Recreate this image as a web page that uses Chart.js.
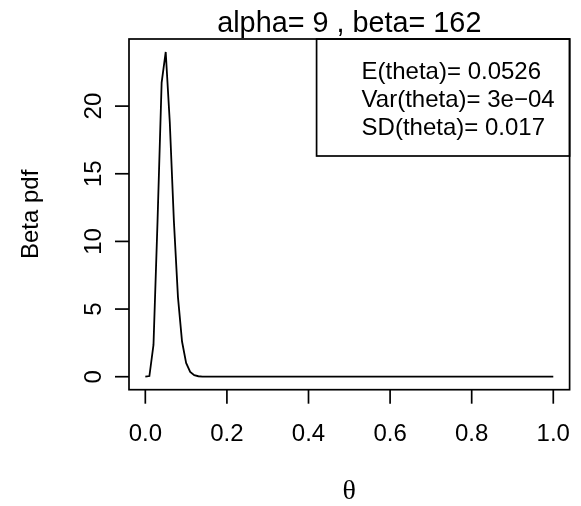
<!DOCTYPE html>
<html>
<head>
<meta charset="utf-8">
<script src="https://cdn.jsdelivr.net/npm/chart.js@4/dist/chart.umd.min.js"></script>
<style>
  html, body { margin: 0; padding: 0; background: #fff; }
  #wrap { width: 581px; height: 506px; }
</style>
</head>
<body>
<div id="wrap"><canvas id="betaChart" width="581" height="506"></canvas></div>
<script>
// theta grid and Beta(9,162) density
const theta = [
  0.00, 0.01, 0.02, 0.03, 0.04, 0.05, 0.06, 0.07, 0.08, 0.09,
  0.10, 0.11, 0.12, 0.13, 0.14, 0.15, 0.16, 0.17, 0.18, 0.19,
  0.20, 0.21, 0.22, 0.23, 0.24, 0.25, 0.26, 0.27, 0.28, 0.29,
  0.30, 0.31, 0.32, 0.33, 0.34, 0.35, 0.36, 0.37, 0.38, 0.39,
  0.40, 0.41, 0.42, 0.43, 0.44, 0.45, 0.46, 0.47, 0.48, 0.49,
  0.50, 0.51, 0.52, 0.53, 0.54, 0.55, 0.56, 0.57, 0.58, 0.59,
  0.60, 0.61, 0.62, 0.63, 0.64, 0.65, 0.66, 0.67, 0.68, 0.69,
  0.70, 0.71, 0.72, 0.73, 0.74, 0.75, 0.76, 0.77, 0.78, 0.79,
  0.80, 0.81, 0.82, 0.83, 0.84, 0.85, 0.86, 0.87, 0.88, 0.89,
  0.90, 0.91, 0.92, 0.93, 0.94, 0.95, 0.96, 0.97, 0.98, 0.99,
  1.00
];
const pdf = [
  0, 0.047, 2.35, 11.54, 21.74, 24.0, 18.79, 11.52, 5.88, 2.6,
  1.02, 0.36, 0.12, 0.035, 0.01, 0.003, 0, 0, 0, 0,
  0, 0, 0, 0, 0, 0, 0, 0, 0, 0,
  0, 0, 0, 0, 0, 0, 0, 0, 0, 0,
  0, 0, 0, 0, 0, 0, 0, 0, 0, 0,
  0, 0, 0, 0, 0, 0, 0, 0, 0, 0,
  0, 0, 0, 0, 0, 0, 0, 0, 0, 0,
  0, 0, 0, 0, 0, 0, 0, 0, 0, 0,
  0, 0, 0, 0, 0, 0, 0, 0, 0, 0,
  0, 0, 0, 0, 0, 0, 0, 0, 0, 0,
  0
];
const xTicks = [0, 0.2, 0.4, 0.6, 0.8, 1.0];
const yTicks = [0, 5, 10, 15, 20];
const mainTitle = 'alpha= 9 , beta= 162';
const legendLines = ['E(theta)= 0.0526', 'Var(theta)= 3e\u221204', 'SD(theta)= 0.017'];

const sans = "'Liberation Sans', Arial, sans-serif";

// draws the R style frame, axes, labels and legend
const rFrame = {
  id: 'rFrame',
  afterDraw(chart) {
    const ctx = chart.ctx;
    const a = chart.chartArea;
    const xs = chart.scales.x, ys = chart.scales.y;
    ctx.save();
    ctx.strokeStyle = '#000';
    ctx.fillStyle = '#000';
    ctx.lineWidth = 1.7;
    ctx.strokeRect(a.left, a.top, a.right - a.left, a.bottom - a.top);

    // x axis
    ctx.font = '24px ' + sans;
    ctx.textAlign = 'center';
    ctx.textBaseline = 'middle';
    xTicks.forEach(v => {
      const px = xs.getPixelForValue(v);
      ctx.beginPath();
      ctx.moveTo(px, a.bottom);
      ctx.lineTo(px, a.bottom + 14);
      ctx.stroke();
      ctx.fillText(v.toFixed(1), px, a.bottom + 45);
    });

    // y axis
    yTicks.forEach(v => {
      const py = ys.getPixelForValue(v);
      ctx.beginPath();
      ctx.moveTo(a.left, py);
      ctx.lineTo(a.left - 14, py);
      ctx.stroke();
      ctx.save();
      ctx.translate(a.left - 35, py);
      ctx.rotate(-Math.PI / 2);
      ctx.fillText(String(v), 0, 0);
      ctx.restore();
    });

    // axis titles
    ctx.save();
    ctx.translate(31, (a.top + a.bottom) / 2);
    ctx.rotate(-Math.PI / 2);
    ctx.fillText('Beta pdf', 0, 0);
    ctx.restore();
    ctx.font = "28px 'Liberation Serif', 'DejaVu Serif', serif";
    ctx.fillText('\u03b8', (a.left + a.right) / 2, 492);

    // main title
    ctx.font = '28.8px ' + sans;
    ctx.textBaseline = 'alphabetic';
    ctx.fillText(mainTitle, (a.left + a.right) / 2, 32);

    // legend box, top right
    ctx.font = '24px ' + sans;
    let w = 0;
    legendLines.forEach(s => { w = Math.max(w, ctx.measureText(s).width); });
    const boxRight = a.right, boxTop = a.top;
    const boxLeft = boxRight - (w + 45 + 15);
    const boxBottom = boxTop + 117;
    ctx.strokeRect(boxLeft, boxTop, boxRight - boxLeft, boxBottom - boxTop);
    ctx.textAlign = 'left';
    ctx.textBaseline = 'middle';
    legendLines.forEach((s, i) => {
      ctx.fillText(s, boxLeft + 45, boxTop + 33 + i * 28);
    });
    ctx.restore();
  }
};

const ctx = document.getElementById('betaChart').getContext('2d');
const myChart = new Chart(ctx, {
  type: 'line',
  data: {
    datasets: [{
      data: theta.map((t, i) => ({ x: t, y: pdf[i] })),
      borderColor: '#000',
      borderWidth: 1.8,
      pointRadius: 0,
      tension: 0,
      fill: false
    }]
  },
  options: {
    responsive: false,
    animation: false,
    layout: { padding: { left: 129, right: 11.4, top: 39, bottom: 116.3 } },
    scales: {
      x: { type: 'linear', min: -0.04, max: 1.04, display: false },
      y: { type: 'linear', min: -0.96, max: 24.96, display: false }
    },
    plugins: {
      legend: { display: false },
      tooltip: { enabled: false }
    }
  },
  plugins: [rFrame]
});
</script>
</body>
</html>
